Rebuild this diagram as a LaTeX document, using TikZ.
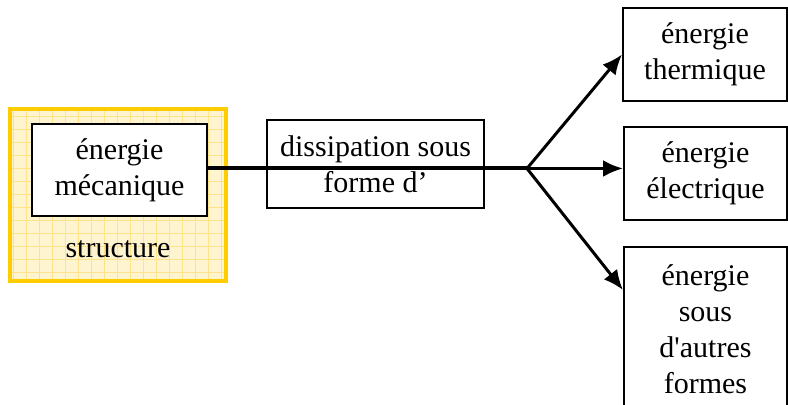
\documentclass[tikz,border=0pt]{standalone}
\usepackage{fontspec}
\setmainfont{Liberation Serif}[Ligatures=TeXOff]
\usetikzlibrary{arrows.meta}
\definecolor{gridyellow}{HTML}{FFE38C}
\definecolor{paleyellow}{HTML}{FFF4D0}
\definecolor{frameyellow}{HTML}{FFCC00}
\tikzset{
  txt/.style={font=\fontsize{15}{18}\selectfont,align=center,inner sep=0pt},
  box/.style={txt,draw,line width=1pt,fill=white},
  flow/.style={line width=1.5pt,-{Latex[length=10pt,width=8.5pt]}},
}
\begin{document}
\begin{tikzpicture}[x=0.5pt,y=-0.5pt]
        \useasboundingbox (0,0) rectangle (788,405);
        \clip (0,0) rectangle (788,405);
        %% Structure
        \fill[paleyellow] (10,109) rectangle (226,281);
        \draw[gridyellow,line width=0.5pt,step=6.5pt] (10,109) grid (226,281);
        \draw[frameyellow,line width=2pt] (10,109) rectangle (226,281);
        \node[box,minimum width=87.5pt,minimum height=46pt] (mech) at (119.5,170) {énergie\\mécanique};
        \node[txt] (struct) at (118,249) {structure};
        %% Dissipation
        \node[box,minimum width=108.5pt,minimum height=44pt] (diss) at (375.5,164) {dissipation sous\\forme d’};
        %% Forms
        \node[box,minimum width=82pt,minimum height=46.5pt] (therm) at (705,54.5) {énergie\\thermique};
        \node[box,minimum width=81.5pt,minimum height=46.5pt] (elec) at (705.5,173.5) {énergie\\électrique};
        \node[box,minimum width=81.5pt,minimum height=82pt] (other) at (705.5,329) {énergie\\sous\\d'autres\\formes};
        %% Connectors
        \coordinate (split) at (527,168.5);
        \coordinate (tipC) at (623,290);
        \draw[line width=2pt] (mech.east |- split) -- (split);
        \draw[flow] (split) -- (therm.west);
        \draw[flow] (split) -- (split -| elec.west);
        \draw[flow] (split) -- (tipC);
\end{tikzpicture}
\end{document}
